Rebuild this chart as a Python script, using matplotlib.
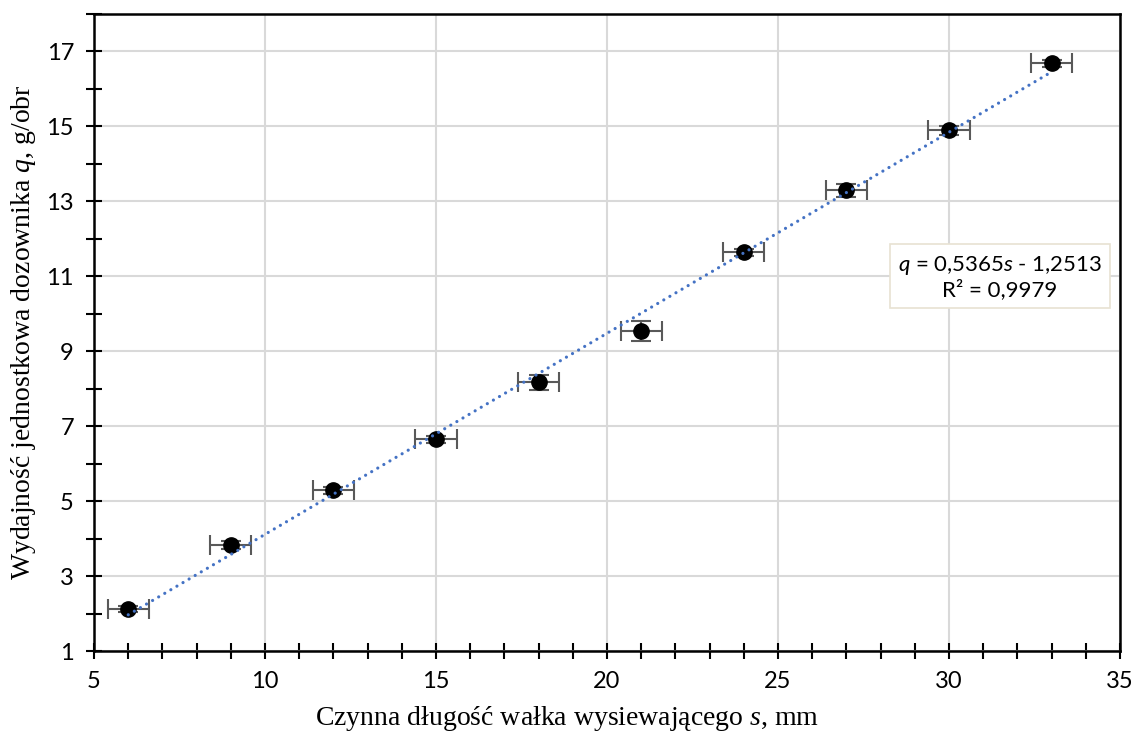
import numpy as np
import matplotlib.pyplot as plt
from matplotlib.ticker import MultipleLocator

# dane
s_mm = [6, 9, 12, 15, 18, 21, 24, 27, 30, 33]
q_gobr = [2.12, 3.83, 5.29, 6.65, 8.17, 9.53, 11.64, 13.29, 14.90, 16.68]
s_err = [0.6, 0.6, 0.6, 0.6, 0.6, 0.6, 0.6, 0.6, 0.6, 0.6]
q_err = [0.08, 0.10, 0.10, 0.10, 0.20, 0.27, 0.10, 0.18, 0.12, 0.10]

# linia trendu (wspolczynniki z etykiety)
slope = 0.5365
intercept = -1.2513
r2 = 0.9979

plt.rcParams['mathtext.fontset'] = 'custom'
plt.rcParams['mathtext.it'] = 'Liberation Serif:italic'
plt.rcParams['mathtext.rm'] = 'Liberation Serif'
plt.rcParams['mathtext.sf'] = 'Lato:italic'

fig = plt.figure(figsize=(11.33, 7.34), dpi=100)
ax = fig.add_axes([0.083, 0.113, 0.9055, 0.868])

ax.errorbar(s_mm, q_gobr, xerr=s_err, yerr=q_err, fmt='o', color='black',
            markersize=11, ecolor='#595959', elinewidth=1.5, capsize=7,
            capthick=1.5, zorder=3)

s_line = np.array([s_mm[0], s_mm[-1]])
ax.plot(s_line, slope * s_line + intercept, color='#4472C4', linewidth=2.3,
        linestyle=(0, (0.01, 2.2)), dash_capstyle='round', zorder=4)

ax.set_xlim(5, 35)
ax.set_ylim(1, 18)
ax.xaxis.set_major_locator(MultipleLocator(5))
ax.xaxis.set_minor_locator(MultipleLocator(1))
ax.set_yticks([1, 3, 5, 7, 9, 11, 13, 15, 17])
ax.yaxis.set_minor_locator(MultipleLocator(1))

ax.grid(True, which='major', color='#d9d9d9', linewidth=1.5, zorder=0)
ax.set_axisbelow(True)

for sp in ax.spines.values():
    sp.set_linewidth(1.8)
ax.tick_params(which='both', direction='inout', length=11, width=1.5,
               top=False, right=False, labelsize=17)
ax.tick_params(axis='x', pad=9)
ax.tick_params(axis='y', pad=9)
for lab in ax.get_xticklabels() + ax.get_yticklabels():
    lab.set_fontfamily('Lato')

ax.set_xlabel('Czynna długość wałka wysiewającego $\\mathit{s}$, mm',
              family='Liberation Serif', fontsize=20)
ax.xaxis.set_label_coords(0.461, -0.083)
ax.set_ylabel('Wydajność jednostkowa dozownika $\\mathit{q}$, g/obr',
              family='Liberation Serif', fontsize=20, labelpad=6)

eq_txt = ('$\\mathsf{q}$ = 0,5365$\\mathsf{s}$ - 1,2513\n'
          'R² = 0,9979')
ax.text(0.883, 0.587, eq_txt, transform=ax.transAxes, ha='center',
        va='center', fontsize=16, family='Lato', linespacing=1.15,
        bbox=dict(boxstyle='square,pad=0.35', facecolor='white',
                  edgecolor='#e8e2d2', linewidth=1.2), zorder=5)

fig.savefig('out.png', dpi=100)
